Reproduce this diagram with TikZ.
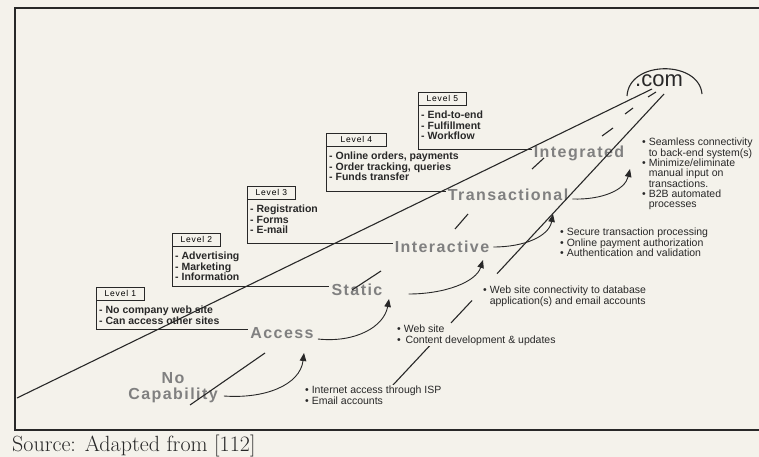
\documentclass[tikz,border=0pt]{standalone}
\usepackage{fontspec}
\newfontfamily\notefont{Liberation Sans}
\newfontfamily\stagefont{Liberation Sans}[LetterSpace=9]
\newfontfamily\lvlfont{Liberation Sans}[LetterSpace=10]
\usetikzlibrary{positioning, arrows.meta, calc}
\definecolor{paper}{RGB}{244,242,235}
\definecolor{ink}{RGB}{40,40,40}
\definecolor{stagegray}{RGB}{128,128,128}

\begin{document}
\begin{tikzpicture}[x=1pt, y=-1pt,
    >={Triangle[length=8pt, width=6.5pt]},
    road/.style={draw=ink, line width=1.1pt},
    rim/.style={draw=ink, line width=0.8pt},
    stage/.style={font=\stagefont\bfseries\fontsize{16}{16}\selectfont, text=stagegray,
        inner sep=2pt, align=center},
    lvl/.style={draw=ink, line width=0.8pt, font=\lvlfont\fontsize{8.5}{9}\selectfont,
        minimum width=#1, minimum height=13pt, inner sep=0pt, anchor=north west},
    lvl/.default=48pt,
    items/.style={font=\notefont\bfseries\fontsize{10.5}{10.5}\selectfont, text=ink,
        align=left, inner sep=1pt},
    note/.style={font=\notefont\fontsize{10.5}{10.3}\selectfont, text=ink, fill=paper,
        align=left, inner sep=1pt, anchor=north west},
    climb/.style={->, draw=ink, line width=0.9pt}
  ]
    \useasboundingbox (0,0) rectangle (759,457);
    \clip (0,0) rectangle (759,457);
    \fill[paper] (0,0) rectangle (759,457);
    % frame
    \draw[ink, line width=1.3pt] (765,8) -- (15,8) -- (15,430) -- (765,430);

    % stages of the road
    \node[stage] (nocap) at (173,388) {No\\Capability};
    \node[stage] (acc) at (282,333) {Access};
    \node[stage] (stat) at (357,290) {Static};
    \node[stage] (inter) at (442,247) {Interactive};
    \node[stage] (trans) at (508,195) {Transactional};
    \node[stage] (integ) at (579,153) {Integrated};

    % road edges and centre dashes
    \draw[road] (17,398) -- (652,89);
    \draw[road] (393,385) -- (430,345.4) (451,322.9) -- (472,300.5) (497,273.7) -- (664,94);
    \foreach \xa/\ya/\xb/\yb in {190/405/265/353, 352/290/381/271, 455/229/468/214,
        532/169/544/158, 602/136/613/128, 625/114/633/108, 648/97/656/92}
      \draw[road] (\xa,\ya) -- (\xb,\yb);

    % level boxes
    \node[lvl] (lab1) at (96,287) {Level 1};
    \node[items, below right=4pt and 2pt of lab1.south west] (it1) {- No company web site\\- Can access other sites};
    \draw[rim] (lab1.south west) |- ([yshift=4pt]acc.west);

    \node[lvl] (lab2) at (172,233) {Level 2};
    \node[items, below right=4pt and 2pt of lab2.south west] (it2) {- Advertising\\- Marketing\\- Information};
    \draw[rim] (lab2.south west) |- ([yshift=4pt]stat.west);

    \node[lvl] (lab3) at (247,186) {Level 3};
    \node[items, below right=4pt and 2pt of lab3.south west] (it3) {- Registration\\- Forms\\- E-mail};
    \draw[rim] (lab3.south west) |- ([yshift=4pt]inter.west);

    \node[lvl=60pt] (lab4) at (326,133) {Level 4};
    \node[items, below right=4pt and 2pt of lab4.south west] (it4) {- Online orders, payments\\- Order tracking, queries\\- Funds transfer};
    \draw[rim] (lab4.south west) |- ([yshift=4pt]trans.west);

    \node[lvl] (lab5) at (418,92) {Level 5};
    \node[items, below right=4pt and 2pt of lab5.south west] (it5) {- End-to-end\\- Fulfillment\\- Workflow};
    \draw[rim] (lab5.south west) |- ([yshift=4pt]integ.west);

    % steps from one stage to the next
    \coordinate (tipA) at (304,353);
    \coordinate (tipS) at (389,299);
    \coordinate (tipI) at (483,260);
    \coordinate (tipT) at (553,214);
    \coordinate (tipG) at (630,169);
    \draw[climb] ([xshift=4pt,yshift=-8pt]nocap.east) .. controls (265,399) and (300,385) .. (tipA);
    \draw[climb] ([xshift=2pt,yshift=-6pt]acc.east) .. controls (355,343) and (384,327) .. (tipS);
    \draw[climb] ([xshift=24pt,yshift=-4pt]stat.east) .. controls (445,294) and (476,282) .. (tipI);
    \draw[climb] ([xshift=2pt]inter.east) .. controls (525,247) and (549,236) .. (tipT);
    \draw[climb] ([xshift=2pt,yshift=-4pt]trans.east) .. controls (602,200) and (625,190) .. (tipG);

    % what each stage brings
    \node[note] (isp) at (304,385) {• Internet access through ISP\\• Email accounts};
    \node[note] (web) at (396,324) {• Web site\\•\ \,Content development \& updates};
    \node[note] (dbase) at (482,285) {• Web site connectivity to database\\\phantom{• }application(s) and email accounts};
    \node[note] (secure) at (559,227) {• Secure transaction processing\\• Online payment authorization\\• Authentication and validation};
    \node[note] (b2b) at (641,137) {• Seamless connectivity\\\phantom{• }to back-end system(s)\\• Minimize/eliminate\\\phantom{• }manual input on\\\phantom{• }transactions.\\• B2B automated\\\phantom{• }processes};

    % goal
    \node[font=\notefont\fontsize{22}{22}\selectfont, text=ink, inner sep=1pt] (dotcom) at (659,81) {.com};
    \draw[road] ($(dotcom)+(-32,15)$) .. controls ($(dotcom)+(-30,-21)$) and ($(dotcom)+(40,-21)$) .. ($(dotcom)+(43,13)$);

    % source line
    \node[font=\fontsize{22}{24}\selectfont, text=ink, anchor=base west, inner sep=0pt] (src) at (12,451) {Source: Adapted from [112]};
\end{tikzpicture}
\end{document}
